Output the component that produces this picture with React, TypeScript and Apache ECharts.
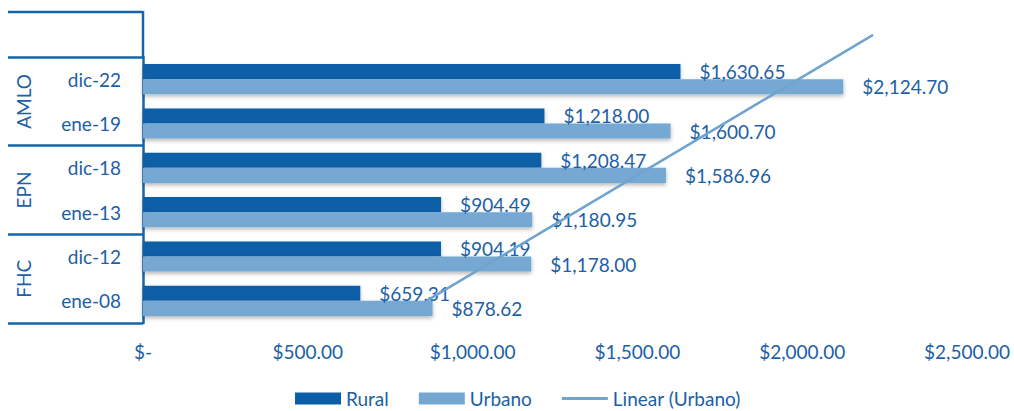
import React, { useEffect, useRef } from "react";
import * as echarts from "echarts";

const periods = ["ene-08", "dic-12", "ene-13", "dic-18", "ene-19", "dic-22"];
const governments = ["FHC", "EPN", "AMLO"];
const rural = [659.31, 904.19, 904.49, 1208.47, 1218.0, 1630.65];
const urbano = [878.62, 1178.0, 1180.95, 1586.96, 1600.7, 2124.7];
// Linear (Urbano) trendline endpoints: [value, period position (1 = ene-08)]
const trendUrbano = [
  [860, 1],
  [2215, 7],
];
const xTicks = [0, 500, 1000, 1500, 2000, 2500];

const BLUE_TEXT = "#1C60A6";
const FRAME = "#1565A9";
const RURAL = "#0B5EA8";
const URBANO = "#74A8D2";
const TREND = "#6FA4D0";
const FONT = "Lato";
const FS = 19;

const money = (v: number) =>
  v === 0
    ? "$-"
    : "$" + v.toLocaleString("en-US", { minimumFractionDigits: 2, maximumFractionDigits: 2 });

export default function App() {
  const ref = useRef<HTMLDivElement>(null);
  useEffect(() => {
    if (!ref.current) return;
    const chart = echarts.init(ref.current, null, { renderer: "svg" });
    chart.setOption({
      animation: false,
      textStyle: { fontFamily: FONT },
      grid: { left: 143, right: 47, top: 57, bottom: 88, containLabel: false },
      legend: {
        left: 290,
        top: 384,
        itemWidth: 46,
        itemHeight: 12,
        itemGap: 30,
        symbolKeepAspect: true,
        textStyle: { color: BLUE_TEXT, fontSize: FS, fontFamily: FONT },
        data: [
          { name: "Rural", icon: "rect" },
          { name: "Urbano", icon: "rect" },
          { name: "Linear (Urbano)", icon: "path://M0,0L50,0L50,3.2L0,3.2Z" },
        ],
      },
      xAxis: {
        type: "value",
        min: 0,
        max: 2500,
        interval: 500,
        axisLine: { show: false },
        axisTick: { show: false },
        splitLine: { show: false },
        axisLabel: {
          color: BLUE_TEXT,
          fontSize: FS,
          fontFamily: FONT,
          margin: 19,
          customValues: xTicks,
          formatter: (v: number) => money(v),
        },
      },
      yAxis: [
        {
          type: "category",
          data: periods,
          axisLine: { show: false },
          axisTick: { show: false },
          axisLabel: { color: BLUE_TEXT, fontSize: FS, fontFamily: FONT, margin: 22 },
        },
        {
          type: "category",
          data: governments,
          position: "left",
          offset: 0,
          axisLine: { show: true, lineStyle: { color: FRAME, width: 2.5 } },
          axisTick: { show: true, length: 135, lineStyle: { color: FRAME, width: 2.5 } },
          axisLabel: {
            color: BLUE_TEXT,
            fontSize: FS,
            fontFamily: FONT,
            rotate: 90,
            margin: 110,
          },
        },
        {
          type: "value",
          min: 0.5,
          max: 6.5,
          show: false,
        },
      ],
      graphic: [
        {
          type: "line",
          shape: { x1: 8, y1: 12, x2: 143, y2: 12 },
          style: { stroke: FRAME, lineWidth: 2.5 },
        },
        {
          type: "line",
          shape: { x1: 143, y1: 11, x2: 143, y2: 57 },
          style: { stroke: FRAME, lineWidth: 2.5 },
        },
      ],
      series: [
        {
          name: "Rural",
          type: "bar",
          yAxisIndex: 0,
          data: rural,
          barGap: "0%",
          barCategoryGap: "32%",
          itemStyle: {
            color: RURAL,
            shadowColor: "rgba(0,0,0,0.25)",
            shadowBlur: 4,
            shadowOffsetY: 2,
          },
          label: {
            show: true,
            position: "right",
            distance: 19,
            color: BLUE_TEXT,
            fontSize: FS,
            fontFamily: FONT,
            formatter: (p: any) => money(p.value),
          },
          z: 2,
        },
        {
          name: "Urbano",
          type: "bar",
          yAxisIndex: 0,
          data: urbano,
          barGap: "0%",
          barCategoryGap: "32%",
          itemStyle: {
            color: URBANO,
            shadowColor: "rgba(0,0,0,0.3)",
            shadowBlur: 4,
            shadowOffsetY: 2,
          },
          label: {
            show: true,
            position: "right",
            distance: 19,
            color: BLUE_TEXT,
            fontSize: FS,
            fontFamily: FONT,
            formatter: (p: any) => money(p.value),
          },
          z: 2,
        },
        {
          name: "Linear (Urbano)",
          type: "line",
          yAxisIndex: 2,
          data: trendUrbano,
          symbol: "none",
          clip: false,
          lineStyle: { color: TREND, width: 2.5 },
          itemStyle: { color: TREND },
          z: 3,
        },
      ],
    });
    return () => chart.dispose();
  }, []);
  return <div ref={ref} style={{ width: 1014, height: 411, position: "absolute", left: 0, top: 0 }} />;
}
